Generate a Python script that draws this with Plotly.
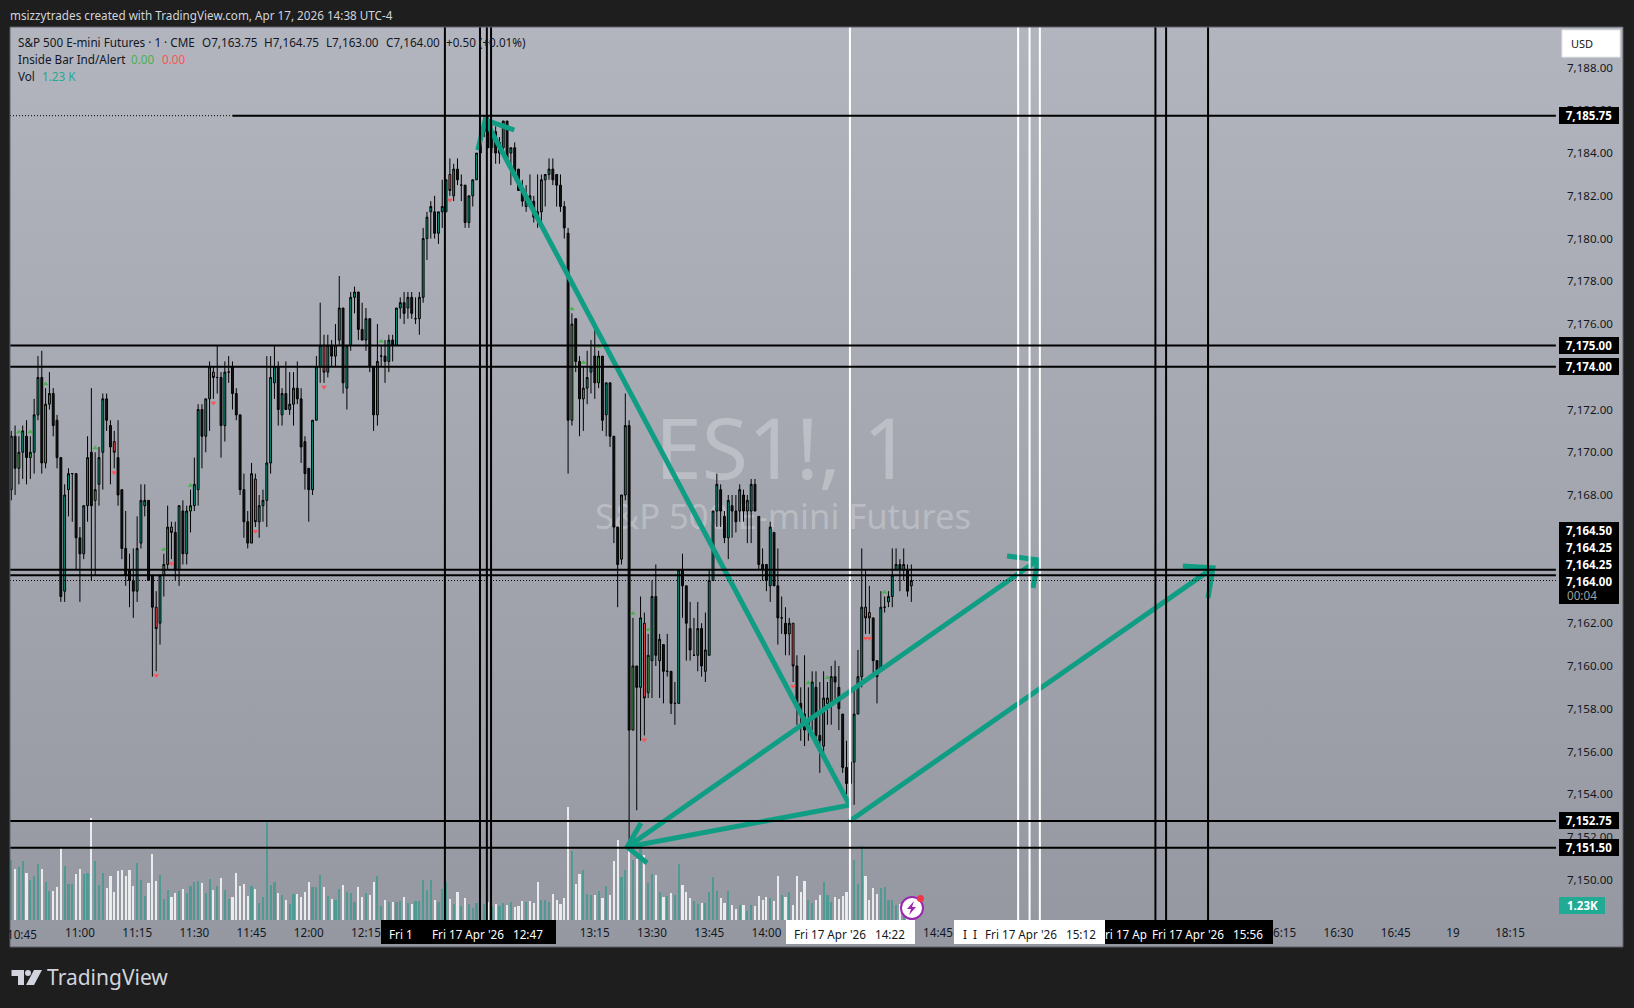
import pandas as pd
import plotly.graph_objects as go

# 1 minute ES1! bars, 10:42 to 14:38
times = pd.date_range("2026-04-17 10:42", periods=237, freq="min").strftime("%Y-%m-%d %H:%M").tolist()

opens = [7168.25,7170.75,7169.25,7170,7170.75,7169.75,7170,7171.75,7173.5,7169.5,
7172.25,7172.75,7171.5,7169.75,7163.5,7168.25,7169,7169,7166,7165.25,
7167.5,7170,7167.75,7168.5,7170,7172.5,7171.25,7170.5,7169.75,7168.25,
7165.5,7164.5,7164,7163.5,7165.75,7167.5,7167.75,7164.25,7162.75,7162,
7164.25,7164.75,7166.5,7166.25,7164.5,7167.25,7165.25,7167.25,7167.5,7168.25,
7172,7170.75,7172.5,7173.75,7173.5,7173.5,7171.25,7173.75,7174,7172.75,
7171.75,7168.25,7166.75,7165.75,7168.75,7166.75,7167.5,7167.75,7169.5,7173.25,
7174,7171.75,7172.75,7172,7172.25,7173,7172.5,7170.5,7169.25,7168.25,
7171.5,7174,7175,7173.75,7175,7174.5,7175.25,7176.75,7173,7175,
7177.25,7177.5,7175.75,7175.25,7176.25,7174,7171.75,7174.5,7174.5,7174.25,
7175.25,7175,7176.75,7177,7176.75,7177.25,7176.25,7176.25,7177.25,7180,
7181.25,7181.25,7180.25,7181.25,7181.25,7183,7182,7183.25,7182.5,7182.5,
7180.75,7182,7182.75,7184,7185,7185.5,7184.25,7185,7184,7184.25,
7185.5,7184,7184.25,7183.25,7182.25,7181.5,7182,7181.75,7181.25,7181.25,
7182.75,7183,7183.25,7183,7182.5,7181.5,7180.25,7171.5,7176.25,7174.25,
7172.5,7173,7173.75,7174.5,7173.25,7174.5,7171.75,7173.25,7170.75,7166.5,
7165,7168,7171.25,7157,7160,7159,7162,7158.75,7160.25,7163.25,
7160.25,7161,7159.75,7159.75,7158.25,7158.25,7164.5,7163.75,7161.75,7160.5,
7160.5,7161.75,7159.75,7160.5,7164,7167.25,7168.25,7167,7166,7167.5,
7167.25,7167.25,7168,7167.25,7167.25,7168.5,7167,7164.75,7164.75,7163.75,
7166.25,7163.75,7162.25,7162,7161.5,7162,7160,7158.25,7157.75,7157,
7157.5,7159,7156.75,7156.25,7158.25,7158.25,7159.5,7159,7157.75,7155.25,
7154.5,7155.5,7157.75,7159.5,7162.75,7162.5,7162.25,7160.25,7159.75,7162.75,
7163,7163.25,7164.5,7164.75,7164.5,7164.5,7163.75]

highs = [7171,7171.25,7170.75,7171.25,7171.5,7170.75,7172.5,7174.5,7174.75,7173,
7173.75,7173,7171.75,7169.75,7168.5,7169.25,7169,7169,7166.5,7167.5,
7170.75,7173,7170,7170.25,7172.75,7172.75,7171.5,7171,7171.5,7168.25,
7167.25,7165.25,7165.5,7167,7168.5,7168.5,7167.75,7164.25,7163.5,7164.25,
7165.25,7167.5,7166.75,7166.75,7167.5,7167.75,7167.5,7168.25,7169.75,7172.25,
7172.25,7172.5,7174.25,7174,7175,7173.75,7174.25,7174.5,7174.25,7173,
7171.75,7169,7167.25,7169.5,7169,7168,7168.25,7174.5,7174.5,7175,
7174.25,7173,7174.25,7173.75,7173.75,7174.25,7173,7170.75,7169.25,7171.5,
7174.5,7177,7175.5,7175.5,7175.25,7176,7178.25,7176.75,7175,7177.5,
7177.75,7177.5,7177,7176.75,7176.25,7174,7176,7175,7175.25,7175.5,
7175.5,7176.75,7177.25,7177.5,7177.5,7177.5,7177.25,7177.5,7180.5,7181.25,
7181.75,7182,7181.25,7182.75,7182.75,7183.75,7183.5,7183.75,7183,7182.5,
7182,7182.75,7184,7185,7185.75,7185.75,7185.5,7185.25,7184.75,7185.5,
7185.5,7184.25,7184.5,7183.25,7182.75,7182.5,7183,7182,7183,7183,
7183,7183.75,7183.75,7183,7183,7181.75,7180.5,7176.5,7176.25,7174.5,
7174,7174.75,7175.25,7175.75,7174.75,7174.5,7173.25,7173.25,7170.75,7166.5,
7168,7172.75,7171.5,7162.25,7160,7163.25,7162.5,7161.5,7164,7164.75,
7161.5,7161,7161.5,7159.75,7159.25,7164.5,7165.25,7163.75,7163,7162.25,
7163,7162,7162.5,7164.5,7167.25,7169,7168.5,7167.25,7168,7168,
7168,7168.5,7168.25,7168,7168.75,7168.75,7167,7165.5,7164.75,7166.75,
7166.25,7165.5,7163.25,7162.75,7162.25,7162,7160.5,7159,7160.5,7159,
7159.75,7159.75,7159.25,7159.75,7159.25,7160,7160.25,7160,7157.75,7156.5,
7155.5,7159,7160.75,7165.5,7164.5,7163.75,7162.25,7160.25,7163.5,7163.25,
7163.5,7165.5,7165.5,7165,7165.5,7164.75,7164.75]

lows = [7167.75,7168,7168.5,7168.75,7168.5,7168.75,7169,7171.5,7169,7169.25,
7172,7170.75,7169.25,7163,7163,7167,7166.75,7164.5,7163,7165,
7166.75,7164,7164.25,7167.5,7168.25,7171,7168.5,7169.25,7167.5,7165,
7163.75,7162.75,7162.25,7163,7165.5,7167,7164,7159.5,7159.75,7161,
7163.25,7164.5,7165,7164,7163.75,7164.75,7164.75,7166.25,7167.25,7167.5,
7169.25,7170,7171,7172.5,7172.75,7169.75,7170.5,7173.25,7172,7171.5,
7168,7166,7165.5,7165.75,7166.5,7166,7166.75,7166.5,7169,7172.5,
7171.25,7171.25,7172,7171.75,7171.25,7172.25,7169.5,7168.25,7166.75,7168,
7171.5,7173.25,7173.25,7173.5,7174,7174,7175,7172.75,7172,7174.75,
7176.5,7175.25,7175.25,7174.75,7173.75,7171,7171.25,7174,7173.25,7173.75,
7174.25,7175,7176.25,7176,7176.25,7176.25,7176,7175.5,7177,7179,
7180,7180,7179.75,7180.5,7181.25,7182,7181.75,7182.5,7181.75,7180.5,
7180.5,7181.5,7182.75,7184,7184.75,7184.25,7184,7183.5,7183.5,7184,
7183.75,7182.5,7182.75,7182.25,7181.5,7181.25,7181.5,7180.75,7180.5,7180.75,
7181.5,7182.75,7182.5,7181.5,7181.25,7180,7169,7171.25,7173.75,7170.75,
7171,7172.25,7172.75,7172.5,7173,7171,7170.75,7170.25,7165.75,7162.75,
7164.75,7167.75,7151.5,7157,7153.25,7156.5,7156.75,7158.5,7158.5,7160,
7158.5,7158.25,7159.5,7157.75,7157.25,7158.25,7162.25,7160.25,7160.25,7160.5,
7159.75,7159.5,7159.25,7160.5,7164,7166.5,7166.5,7165.75,7165,7166,
7166.25,7166.75,7166.75,7165.75,7165.75,7167.25,7164.5,7164,7163.5,7163,
7163.75,7161,7161.5,7160.5,7160.5,7159.25,7157.25,7156.5,7156.25,7156.5,
7157,7156.25,7155,7155.75,7157.25,7157.25,7158.25,7157,7155,7154,
7153.5,7153.5,7157.75,7159,7161.5,7161.5,7159.5,7158.25,7159.75,7162.5,
7162.75,7162.75,7164.5,7163.5,7164,7163.25,7163]

closes = [7170.75,7169.25,7170,7171,7169.75,7170,7171.75,7173.5,7169.5,7172.25,
7172.75,7171.25,7169.75,7163.25,7168,7169,7169,7166,7165.25,7167.5,
7169.75,7167.5,7168.25,7169.75,7172.5,7171.5,7170.25,7170,7168,7165.5,
7164.25,7164,7163.5,7165.5,7167.75,7167.75,7164,7162.75,7161.75,7164.25,
7164.75,7166.5,7166.25,7164.5,7167.5,7165.25,7167.25,7167.5,7168.5,7172,
7170.75,7172.5,7174,7173.5,7173.5,7171.25,7173.75,7173.75,7172.75,7171.75,
7168.25,7166.75,7165.75,7169,7166.75,7167.5,7167.75,7169.5,7173.5,7174,
7172,7172.75,7172,7172.25,7173,7172.5,7170.25,7169,7168.25,7171.5,
7174,7175,7173.75,7175,7174.5,7175,7176.75,7173.25,7175,7177.25,
7177.5,7175.75,7175.25,7176.25,7174,7171.75,7174.25,7174.5,7174.25,7175.25,
7175,7176.75,7177,7176.5,7177.25,7176.5,7176.25,7177.25,7180,7181,
7181.5,7180.25,7181.25,7181.5,7182.75,7182.25,7183.25,7182.75,7182.5,7180.75,
7182,7182.75,7184,7185,7185.5,7184.25,7184.75,7184,7184.5,7185.5,
7183.75,7184.25,7183,7182.25,7181.75,7182,7181.5,7181,7181,7182.75,
7183,7183.25,7182.75,7182.5,7181.5,7180.5,7171.5,7176,7174.25,7172.5,
7173,7173.5,7174,7173.25,7174.5,7171.5,7173.25,7170.75,7166.5,7164.75,
7168,7171.25,7157,7160,7159,7162.25,7158.5,7160.5,7163.25,7160.5,
7161.25,7159.75,7159.75,7158.25,7158.25,7164.5,7163.75,7162,7160.75,7160.5,
7161.75,7160,7160.75,7164,7167.25,7168.5,7167.25,7166,7167.75,7167.25,
7166.75,7168.25,7167.25,7167.75,7168.5,7167.25,7164.75,7164.5,7164,7166.5,
7163.75,7162.25,7162.25,7161.5,7162,7160,7158.25,7157.75,7157,7157.5,
7159.25,7156.75,7156.5,7158.5,7158.5,7159.5,7159.25,7158,7155.25,7154.5,
7155.5,7157.75,7159.5,7162.75,7162.25,7162.25,7160.25,7159.5,7162.75,7162.75,
7163.25,7164.25,7164.75,7164.5,7164.75,7163.5,7164]

# volume in thousands of contracts
volumes = [4.35,3.70,3.84,4.25,3.41,2.90,3.19,4.06,3.70,2.75,
2.10,2.10,2.39,5.19,3.91,2.61,2.61,3.33,3.70,3.33,
3.41,7.37,4.28,2.54,3.41,2.32,3.19,2.03,3.55,3.62,
3.19,3.62,2.46,4.13,2.90,1.74,2.68,4.78,2.83,3.26,
1.52,2.17,1.67,1.96,2.08,2.25,1.96,2.46,2.75,2.83,
2.68,1.96,2.97,2.17,2.46,3.04,2.17,1.52,1.67,3.41,
2.46,2.61,1.74,2.46,2.25,1.23,1.67,7.10,2.54,2.75,
1.96,1.81,1.45,1.16,1.88,1.88,1.67,2.03,2.75,2.39,
2.39,3.26,2.39,1.74,1.52,1.45,2.25,2.54,2.03,1.93,
1.30,2.39,1.67,1.93,1.81,2.75,3.19,1.01,1.45,1.30,
1.30,1.30,1.38,1.67,1.23,1.16,1.38,1.38,2.90,2.17,
2.90,1.45,1.30,2.25,2.75,1.52,1.16,2.03,1.01,1.59,
1.16,0.87,1.23,1.88,1.16,1.30,0.94,1.16,1.01,1.23,
1.09,1.30,0.94,1.01,1.38,1.30,1.38,1.23,2.75,1.45,
1.45,1.30,1.88,1.45,1.16,1.59,8.19,5.00,2.61,3.33,
3.62,1.88,1.79,1.81,2.10,1.59,2.46,1.81,4.28,5.80,
3.12,3.62,5.19,4.35,4.42,5.56,4.71,2.68,3.33,3.26,
2.03,1.67,1.74,1.96,1.81,4.06,2.54,2.03,1.59,1.38,
1.16,1.23,1.23,2.03,3.12,2.10,1.59,1.23,2.10,1.09,
0.80,1.09,1.09,0.65,1.09,1.01,1.74,1.45,1.67,1.59,
1.38,3.19,1.81,1.67,2.03,1.09,3.19,2.03,2.83,1.45,
1.23,1.45,1.81,2.75,1.81,1.30,1.67,1.52,1.74,2.03,
2.03,4.35,2.61,5.36,3.19,1.45,2.32,1.88,2.32,2.39,
1.45,1.45,1.09,1.16,1.09,0.72,1.23]

# bars painted by the Inside Bar indicator
green_bars = [2, 5, 9, 22, 40, 47, 97, 147, 150, 154, 163, 167, 209, 214, 229]
red_bars = [27, 38, 42, 53, 64, 82, 115, 166, 205, 224, 225]

price_ticks = [7150 + 2 * i for i in range(20)]
time_ticks = ["11:00", "11:15", "11:30", "11:45", "12:00", "12:15", "13:15", "13:30", "13:45",
              "14:00", "14:45", "16:15", "16:30", "16:45", "17:00", "17:15"]
time_labels = ["11:00", "11:15", "11:30", "11:45", "12:00", "12:15", "13:15", "13:30", "13:45",
               "14:00", "14:45", "16:15", "16:30", "16:45", "19", "18:15"]

black_vlines = ["12:35:42", "12:44:54", "12:46:42", "12:47:48", "15:42", "15:44:48", "15:55:48"]
white_vlines = ["14:21:54", "15:06", "15:09", "15:11:42"]
solid_hlines = [7175, 7174, 7164.5, 7164.25, 7152.75, 7151.5]
dotted_hlines = [7164, 7151.5]
high_price = 7185.75

price_tags = [("7,185.75", 7185.75), ("7,175.00", 7175), ("7,174.00", 7174), ("7,152.75", 7152.75), ("7,151.50", 7151.5)]
stacked_tags = [("7,164.50", 530), ("7,164.25", 547), ("7,164.25", 564), ("7,164.00", 581)]

# hand drawn trend lines: (times, prices)
drawings = [
    (["14:21:48", "12:46:18"], [7153.49, 7185.55]),
    (["12:44:18", "12:46:18", "12:53:54"], [7184.14, 7185.55, 7185.08]),
    (["14:21:48", "13:23:30"], [7153.49, 7151.53]),
    (["13:27:06", "13:23:30", "13:28:42"], [7152.65, 7151.53, 7150.78]),
    (["13:23:30", "15:11:12"], [7151.53, 7164.96]),
    (["15:03:06", "15:11:12", "15:09:54"], [7165.15, 7164.96, 7163.65]),
    (["14:21:36", "15:57:06"], [7152.71, 7164.59]),
    (["15:49:12", "15:57:06", "15:55:48"], [7164.68, 7164.59, 7163.18]),
]

WIDTH, HEIGHT = 1634, 1008
LEFT, RIGHT, TOP, BOTTOM = 10, 1623, 27, 947
FONT = "Noto Sans"
DARK = "#131722"
TEAL = "#089981"
DRAW_TEAL = "#0f9d84"


def d(t):
    return "2026-04-17 " + t


def px(x):
    return (x - LEFT) / (RIGHT - LEFT)


def py(y):
    return (BOTTOM - y) / (BOTTOM - TOP)


def candles(idx, up, down):
    return go.Candlestick(
        x=[times[i] for i in idx], open=[opens[i] for i in idx], high=[highs[i] for i in idx],
        low=[lows[i] for i in idx], close=[closes[i] for i in idx],
        xaxis="x2", yaxis="y3", whiskerwidth=0, showlegend=False, hoverinfo="skip",
        increasing=dict(fillcolor=up, line=dict(color="black", width=1)),
        decreasing=dict(fillcolor=down, line=dict(color="black", width=1)),
    )


fig = go.Figure()

# panel background + watermark sit on the bottom axes so the candles cover them
fig.add_trace(go.Scatter(
    x=[0, 1, 1, 0, 0], y=[0, 0, 1, 1, 0], mode="lines", fill="toself", line=dict(width=0),
    fillgradient=dict(type="vertical", colorscale=[[0, "#9598a1"], [1, "#b2b5be"]]),
    showlegend=False, hoverinfo="skip",
))
fig.add_trace(go.Scatter(
    x=[px(783), px(783)], y=[py(458), py(520)], mode="text", text=["ES1!, 1", "S&P 500 E-mini Futures"],
    textfont=dict(family=FONT, size=[84, 34.6], color="rgba(255,255,255,0.27)"),
    showlegend=False, hoverinfo="skip",
))

vol_colors = ["rgba(8,153,129,0.5)" if c >= o else "rgba(255,255,255,0.8)" for o, c in zip(opens, closes)]
fig.add_trace(go.Bar(x=times, y=volumes, width=34000, marker=dict(color=vol_colors, line=dict(width=0)),
                     xaxis="x2", yaxis="y2", showlegend=False, hoverinfo="skip"))

plain = [i for i in range(len(times)) if i not in green_bars and i not in red_bars]
fig.add_trace(candles(plain, TEAL, "#131313"))
fig.add_trace(candles(green_bars, "#4caf50", "#4caf50"))
fig.add_trace(candles(red_bars, "#ff5252", "#ff5252"))

fig.add_trace(go.Scatter(
    x=[times[i] for i in green_bars], y=[highs[i] + 0.2 for i in green_bars], mode="markers",
    marker=dict(symbol="triangle-up", size=5, color="#4caf50", line=dict(width=0)),
    xaxis="x2", yaxis="y3", showlegend=False, hoverinfo="skip"))
fig.add_trace(go.Scatter(
    x=[times[i] for i in red_bars], y=[lows[i] - 0.2 for i in red_bars], mode="markers",
    marker=dict(symbol="triangle-down", size=5, color="#ff5252", line=dict(width=0)),
    xaxis="x2", yaxis="y3", showlegend=False, hoverinfo="skip"))

for line_times, line_prices in drawings:
    fig.add_trace(go.Scatter(x=[d(t) for t in line_times], y=line_prices, mode="lines",
                             line=dict(color=DRAW_TEAL, width=5), xaxis="x2", yaxis="y3",
                             showlegend=False, hoverinfo="skip"))

shapes = []
vline_top = 1
vline_bottom = py(920)
for t in black_vlines:
    shapes.append(dict(type="line", xref="x2", yref="paper", x0=d(t), x1=d(t), y0=vline_bottom, y1=vline_top,
                       line=dict(color="black", width=2)))
for t in white_vlines:
    shapes.append(dict(type="line", xref="x2", yref="paper", x0=d(t), x1=d(t), y0=vline_bottom, y1=vline_top,
                       line=dict(color="white", width=2)))

x_start, x_end = "2026-04-17 10:41:40", "2026-04-17 17:44:36"
line_end = "2026-04-17 17:27"
for p in solid_hlines:
    shapes.append(dict(type="line", xref="x2", yref="y3", x0=x_start, x1=line_end, y0=p, y1=p,
                       line=dict(color="black", width=2)))
for p in dotted_hlines:
    shapes.append(dict(type="line", xref="x2", yref="y3", x0=x_start, x1=line_end, y0=p, y1=p,
                       line=dict(color="black", width=1, dash="1px,2px")))
shapes.append(dict(type="line", xref="x2", yref="y3", x0=x_start, x1=d("11:40"), y0=high_price, y1=high_price,
                   line=dict(color="black", width=1, dash="1px,2px")))
shapes.append(dict(type="line", xref="x2", yref="y3", x0=d("11:40"), x1=line_end, y0=high_price, y1=high_price,
                   line=dict(color="black", width=2)))


def box(x0, x1, y0, y1, color):
    shapes.append(dict(type="rect", xref="paper", yref="paper", x0=px(x0), x1=px(x1), y0=py(y1), y1=py(y0),
                       fillcolor=color, line=dict(width=0)))


# time labels of the vertical lines
box(381, 556, 920, 944, "black")
box(786, 915, 920, 944, "white")
box(954, 1105, 920, 944, "white")
box(1105, 1273, 920, 944, "black")
# price scale stack and volume tag
box(1559, 1619, 522, 604, "black")
box(1559, 1605, 897, 914, "#22ab94")

shapes.append(dict(type="rect", xref="paper", yref="paper", x0=px(1562), x1=px(1620), y0=py(57), y1=py(30),
                   fillcolor="white", line=dict(color="#e8e8e8", width=1)))
shapes.append(dict(type="rect", xref="paper", yref="paper", x0=0, x1=1, y0=0, y1=1,
                   line=dict(color="#5d606b", width=1)))

# alert icon
shapes.append(dict(type="circle", xref="paper", yref="paper", x0=px(901), x1=px(923), y0=py(919), y1=py(897),
                   fillcolor="white", line=dict(color="#9c27b0", width=2)))
bolt = [(914, 901), (907, 909), (911, 909), (909, 915), (916, 907), (912, 907)]
shapes.append(dict(type="path", xref="paper", yref="paper", fillcolor="#9c27b0", line=dict(width=0),
                   path="M " + " L ".join(f"{px(x)} {py(y)}" for x, y in bolt) + " Z"))
shapes.append(dict(type="circle", xref="paper", yref="paper", x0=px(917), x1=px(924), y0=py(902), y1=py(895),
                   fillcolor="#f23645", line=dict(width=0)))

# TradingView mark
logo_t = [(11.5, 970), (24, 970), (24, 985), (18, 985), (18, 976), (11.5, 976)]
logo_slash = [(34, 970), (42, 970), (34, 985), (26, 985)]
for pts in (logo_t, logo_slash):
    shapes.append(dict(type="path", xref="paper", yref="paper", fillcolor="#d1d4dc", line=dict(width=0),
                       path="M " + " L ".join(f"{px(x)} {py(y)}" for x, y in pts) + " Z"))
shapes.append(dict(type="circle", xref="paper", yref="paper", x0=px(25), x1=px(31), y0=py(976), y1=py(970),
                   fillcolor="#d1d4dc", line=dict(width=0)))

annotations = []


def label(text, x, y, color=DARK, size=11.7, anchor="left", bold=False):
    annotations.append(dict(text=f"<b>{text}</b>" if bold else text, xref="paper", yref="paper", x=px(x), y=py(y),
                            xanchor=anchor, yanchor="middle", showarrow=False, borderpad=0, borderwidth=0,
                            font=dict(family=FONT, size=size, color=color)))


label("msizzytrades created with TradingView.com, Apr 17, 2026 14:38 UTC-4", 10, 14.5, "#d1d4dc")
label("S&P 500 E-mini Futures · 1 · CME", 18, 42)
label("O7,163.75", 202, 42)
label("H7,164.75", 264, 42)
label("L7,163.00", 326, 42)
label("C7,164.00", 386, 42)
label("+0.50 (+0.01%)", 446, 42)
label("Inside Bar Ind/Alert", 18, 59)
label("0.00", 131, 59, "#4caf50")
label("0.00", 162, 59, "#ff5252")
label("Vol", 18, 76)
label("1.23 K", 42, 76, "#22ab94")
label("USD", 1571, 44, DARK, 11)
label("TradingView", 47, 977, "#d1d4dc", 21)
# first tick is cut by the pane edge, the axis would drop it
label("10:45", 22, 934, DARK, 11.7, "center")

for text, price in price_tags:
    annotations.append(dict(text=f"<b>{text}</b>", xref="paper", yref="y3", x=px(1589), y=price, xanchor="center",
                            yanchor="middle", showarrow=False, width=60, height=17, bgcolor="black",
                            borderpad=0, borderwidth=0, font=dict(family=FONT, size=11.5, color="white")))
for text, y in stacked_tags:
    label(text, 1589, y, "white", 11.5, "center", True)
label("00:04", 1567, 595, "#a0a0a0", 11.7)
label("1.23K", 1582, 905.5, "white", 11.5, "center", True)

label("Fri 1", 389, 934, "white")
label("Fri 17 Apr '26\u00a0\u00a0\u00a012:47", 432, 934, "white")
label("Fri 17 Apr '26\u00a0\u00a0\u00a014:22", 794, 934, DARK)
label("I\u00a0\u00a0I", 963, 934, DARK)
label("Fri 17 Apr '26\u00a0\u00a0\u00a015:12", 985, 934, DARK)
label("ri 17 Ap", 1105, 934, "white")
label("Fri 17 Apr '26\u00a0\u00a0\u00a015:56", 1152, 934, "white")

fig.update_layout(
    width=WIDTH, height=HEIGHT, autosize=False,
    margin=dict(l=LEFT, r=WIDTH - RIGHT, t=TOP, b=HEIGHT - BOTTOM, pad=0),
    paper_bgcolor="#1e1e1e", plot_bgcolor="rgba(0,0,0,0)",
    font=dict(family=FONT, size=12, color=DARK),
    showlegend=False, boxgap=0.3, bargap=0,
    shapes=shapes, annotations=annotations,
    xaxis=dict(range=[0, 1], visible=False, fixedrange=True),
    yaxis=dict(range=[0, 1], visible=False, fixedrange=True),
    xaxis2=dict(overlaying="x", anchor="y3", type="date", range=[x_start, x_end],
                tickvals=[d(t) for t in time_ticks], ticktext=time_labels, ticklabelposition="inside",
                ticklabelstandoff=5, ticks="", showgrid=True, gridcolor="rgba(255,255,255,0.035)",
                zeroline=False, showline=False, rangeslider=dict(visible=False),
                tickfont=dict(family=FONT, size=11.7, color=DARK)),
    # volume scale: 13.8 px per 1K with the base at the top of the time scale
    yaxis2=dict(overlaying="y", anchor="x2", range=[-1.956, 64.7], visible=False, fixedrange=True),
    yaxis3=dict(overlaying="y", anchor="x2", side="right", range=[7146.85, 7189.9],
                tickvals=price_ticks, tickformat=",.2f", ticklabelposition="inside", ticklabelstandoff=7,
                ticks="", showgrid=True, gridcolor="rgba(255,255,255,0.035)", zeroline=False, showline=False,
                tickfont=dict(family=FONT, size=11.6, color=DARK)),
)

fig.write_html("out.html", config=dict(displayModeBar=False),
               post_script="document.body.style.margin='0';document.body.style.background='#1e1e1e';document.body.style.overflow='hidden';")
